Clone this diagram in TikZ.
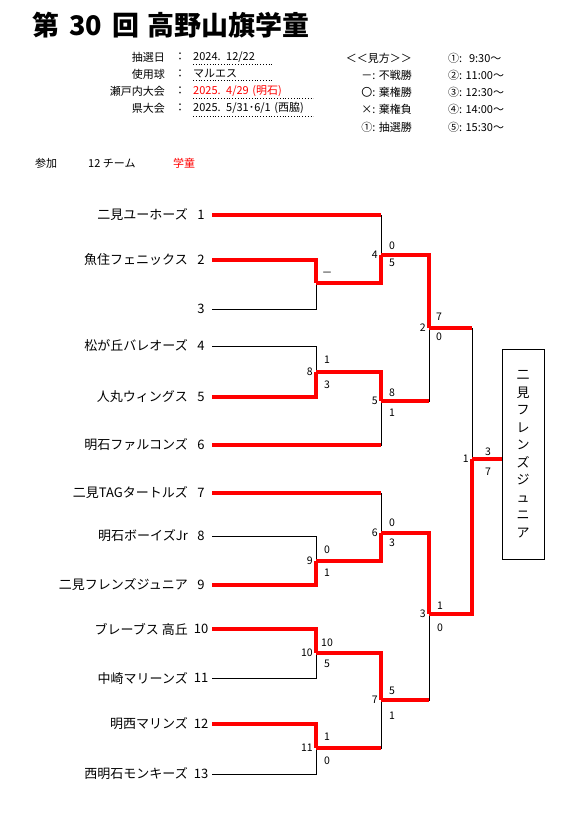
\documentclass[tikz,border=0pt]{standalone}
\usepackage{fontspec}
\setmainfont{Noto Sans CJK JP}
\usetikzlibrary{positioning}
\definecolor{winred}{RGB}{255,0,0}

\begin{document}
\begin{tikzpicture}[
  x=1pt,y=-1pt,
  font=\fontsize{11}{13}\selectfont,
  every node/.style={inner sep=0pt},
  team/.style={anchor=east,font=\fontsize{13}{15}\selectfont},
  seed/.style={font=\fontsize{13}{15}\selectfont},
  val/.style={anchor=west,align=left,inner ysep=2pt},
  dotline/.style={dotted,line width=0.8pt},
  line/.style={line width=0.9pt,black},
  win/.style={line width=4.5pt,winred},
  score/.style={font=\fontsize{10.5}{11}\selectfont},
  mnum/.style={font=\fontsize{10.5}{11}\selectfont,left=3pt of #1}]
\path[use as bounding box] (0,0) rectangle (585,833);
% header
\node[anchor=west,font=\fontsize{27}{30}\selectfont\bfseries] (title) at (32,25)
  {第\hspace{10pt}30\hspace{10pt}回\hspace{8pt}高野山旗学童};
\node[anchor=east] (k1) at (165,57) {抽選日};
\node[anchor=east] (k2) at (165,74) {使用球};
\node[anchor=east] (k3) at (165,91) {瀬戸内大会};
\node[anchor=east] (k4) at (165,108) {県大会};
\node (c1) at (180,57) {：};
\node (c2) at (180,74) {：};
\node (c3) at (180,91) {：};
\node (c4) at (180,108) {：};
\node[val,text width=79pt] (v1) at (193,57) {2024. 12/22};
\node[val,text width=79pt] (v2) at (193,74) {マルエス};
\node[val,text width=120pt,text=winred] (v3) at (193,91) {2025. 4/29 (明石)};
\node[val,text width=120pt] (v4) at (193,108) {2025. 5/31･6/1 (西脇)};
\draw[dotline] (v1.south west) -- (v1.south east);
\draw[dotline] (v2.south west) -- (v2.south east);
\draw[dotline] (v3.south west) -- (v3.south east);
\draw[dotline] (v4.south west) -- (v4.south east);
% legend
\node[anchor=east] (l0) at (412,58) {＜＜見方＞＞};
\node[anchor=east] (l1) at (412,75) {－: 不戦勝};
\node[anchor=east] (l2) at (412,92) {〇: 棄権勝};
\node[anchor=east] (l3) at (412,109) {×: 棄権負};
\node[anchor=east] (l4) at (412,127) {①: 抽選勝};
\node[anchor=west] (h1) at (448,58) {①:\ \ \,9:30～};
\node[anchor=west] (h2) at (448,75) {②: 11:00～};
\node[anchor=west] (h3) at (448,92) {③: 12:30～};
\node[anchor=west] (h4) at (448,109) {④: 14:00～};
\node[anchor=west] (h5) at (448,127) {⑤: 15:30～};
\node[anchor=west] (sanka) at (35,163) {参加};
\node[anchor=west] (nteams) at (88,163) {12 チーム};
\node[anchor=west,text=winred] (grade) at (173,163) {学童};
% teams
\node[team] (n1) at (188,215) {二見ユーホーズ};
\node[team] (n2) at (188,260) {魚住フェニックス};
\node[team] (n4) at (188,346) {松が丘バレオーズ};
\node[team] (n5) at (188,397) {人丸ウィングス};
\node[team] (n6) at (188,445) {明石ファルコンズ};
\node[team] (n7) at (188,493) {二見TAGタートルズ};
\node[team] (n8) at (188,536) {明石ボーイズJr};
\node[team] (n9) at (188,585) {二見フレンズジュニア};
\node[team] (n10) at (188,629) {ブレーブス 高丘};
\node[team] (n11) at (188,678) {中崎マリーンズ};
\node[team] (n12) at (188,724) {明西マリンズ};
\node[team] (n13) at (188,774) {西明石モンキーズ};
\node[seed] (s1) at (201,215) {1};
\node[seed] (s2) at (201,260) {2};
\node[seed] (s3) at (201,309) {3};
\node[seed] (s4) at (201,346) {4};
\node[seed] (s5) at (201,397) {5};
\node[seed] (s6) at (201,445) {6};
\node[seed] (s7) at (201,493) {7};
\node[seed] (s8) at (201,536) {8};
\node[seed] (s9) at (201,585) {9};
\node[seed] (s10) at (201,629) {10};
\node[seed] (s11) at (201,678) {11};
\node[seed] (s12) at (201,724) {12};
\node[seed] (s13) at (201,774) {13};
\coordinate (p1) at (212,215);
\coordinate (p2) at (212,260);
\coordinate (p3) at (212,309);
\coordinate (p4) at (212,346);
\coordinate (p5) at (212,397);
\coordinate (p6) at (212,445);
\coordinate (p7) at (212,493);
\coordinate (p8) at (212,536);
\coordinate (p9) at (212,585);
\coordinate (p10) at (212,629);
\coordinate (p11) at (212,678);
\coordinate (p12) at (212,724);
\coordinate (p13) at (212,774);
% match junctions
\coordinate (ma) at (316,283);
\coordinate (mb) at (316,372);
\coordinate (mc) at (381,255);
\coordinate (md) at (381,401);
\coordinate (me) at (429,328);
\coordinate (mf) at (316,561);
\coordinate (mg) at (381,533);
\coordinate (mh) at (316,653);
\coordinate (mi) at (316,748);
\coordinate (mj) at (381,700);
\coordinate (mk) at (429,614);
\coordinate (ml) at (472,459);
\node[draw,line width=0.9pt,minimum width=42pt,minimum height=210pt,align=center,
  font=\fontsize{13}{17.5}\selectfont] (champ) at (523,454)
  {二\\見\\フ\\レ\\ン\\ズ\\ジ\\ュ\\ニ\\ア};
% bracket lines
\draw[line] (p2) -| (ma) (p3) -| (ma);
\draw[line] (p4) -| (mb) (p5) -| (mb);
\draw[line] (p1) -| (mc) (ma) -| (mc);
\draw[line] (mb) -| (md) (p6) -| (md);
\draw[line] (mc) -| (me) (md) -| (me);
\draw[line] (p8) -| (mf) (p9) -| (mf);
\draw[line] (p7) -| (mg) (mf) -| (mg);
\draw[line] (p10) -| (mh) (p11) -| (mh);
\draw[line] (p12) -| (mi) (p13) -| (mi);
\draw[line] (mh) -| (mj) (mi) -| (mj);
\draw[line] (mg) -| (mk) (mj) -| (mk);
\draw[line] (me) -| (ml) (mk) -| (ml);
% winners
\draw[win] (p2) -| (ma);
\draw[win] (p5) -| (mb);
\draw[win] (p1) -- (p1 -| mc);
\draw[win] (ma) -| (mc);
\draw[win] (mb) -| (md);
\draw[win] (p6) -- (p6 -| md);
\draw[win] (mc) -| (me);
\draw[win] (md) -- (md -| me);
\draw[win] (me) -- (me -| ml);
\draw[win] (p7) -- (p7 -| mg);
\draw[win] (p9) -| (mf);
\draw[win] (mf) -| (mg);
\draw[win] (p10) -| (mh);
\draw[win] (p12) -| (mi);
\draw[win] (mh) -| (mj);
\draw[win] (mi) -- (mi -| mj);
\draw[win] (mg) -| (mk);
\draw[win] (mj) -- (mj -| mk);
\draw[win] (mk) -| (ml);
\draw[win] (ml) -- (ml -| champ.west);
% match numbers
\node[mnum=mb] (nb) {8};
\node[mnum=mc] (nc) {4};
\node[mnum=md] (nd) {5};
\node[mnum=me] (ne) {2};
\node[mnum=mf] (nf) {9};
\node[mnum=mg] (ng) {6};
\node[mnum=mh] (nh) {10};
\node[mnum=mi] (ni) {11};
\node[mnum=mj] (nj) {7};
\node[mnum=mk] (nk) {3};
\node[mnum=ml] (nl) {1};
% scores
\node[score] (xa) at (327,274) {－};
\node[score] (xb1) at (327,360) {1};
\node[score] (xb2) at (327,385) {3};
\node[score] (xc1) at (392,246) {0};
\node[score] (xc2) at (392,263) {5};
\node[score] (xd1) at (392,393) {8};
\node[score] (xd2) at (392,413) {1};
\node[score] (xe1) at (439,317) {7};
\node[score] (xe2) at (439,337) {0};
\node[score] (xf1) at (327,550) {0};
\node[score] (xf2) at (327,573) {1};
\node[score] (xg1) at (392,523) {0};
\node[score] (xg2) at (392,543) {3};
\node[score] (xh1) at (327,643) {10};
\node[score] (xh2) at (327,664) {5};
\node[score] (xi1) at (327,737) {1};
\node[score] (xi2) at (327,761) {0};
\node[score] (xj1) at (392,691) {5};
\node[score] (xj2) at (392,716) {1};
\node[score] (xk1) at (440,606) {1};
\node[score] (xk2) at (440,628) {0};
\node[score] (xl1) at (488,452) {3};
\node[score] (xl2) at (488,472) {7};
\end{tikzpicture}
\end{document}
